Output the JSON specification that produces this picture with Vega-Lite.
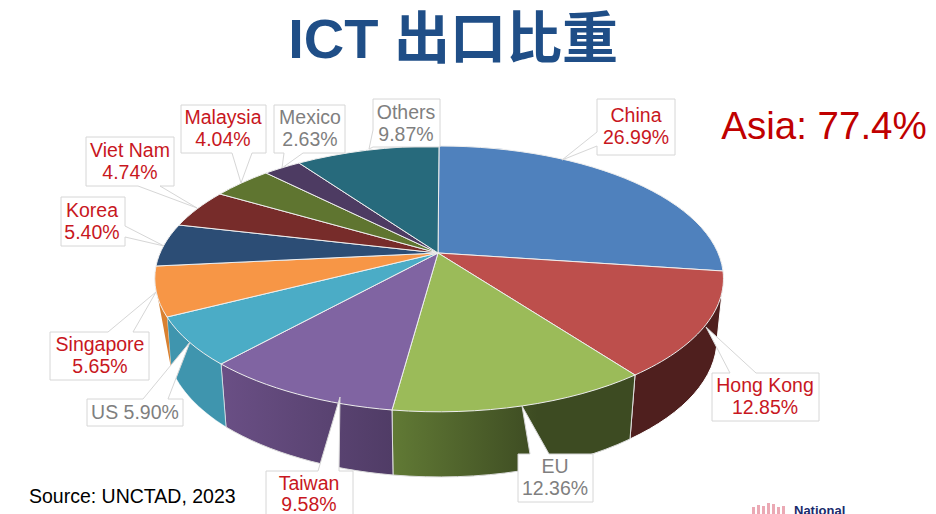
{
  "$schema": "https://vega.github.io/schema/vega-lite/v6.json",
  "width": 936,
  "height": 514,
  "padding": 0,
  "autosize": {"type": "none"},
  "background": "white",
  "config": {"view": {"stroke": null}},
  "title": {"text": "ICT 出口比重", "font": "Liberation Sans, Noto Sans CJK TC", "fontSize": 56, "fontWeight": "bold", "color": "#1f4e87", "anchor": "middle", "offset": -70, "dx": -15},
  "data": {"values": [
    {"name": "China", "share": 26.99, "label": "China\n26.99%"},
    {"name": "Hong Kong", "share": 12.85, "label": "Hong Kong\n12.85%"},
    {"name": "EU", "share": 12.36, "label": "EU\n12.36%"},
    {"name": "Taiwan", "share": 9.58, "label": "Taiwan\n9.58%"},
    {"name": "US", "share": 5.9, "label": "US 5.90%"},
    {"name": "Singapore", "share": 5.65, "label": "Singapore\n5.65%"},
    {"name": "Korea", "share": 5.4, "label": "Korea\n5.40%"},
    {"name": "Viet Nam", "share": 4.74, "label": "Viet Nam\n4.74%"},
    {"name": "Malaysia", "share": 4.04, "label": "Malaysia\n4.04%"},
    {"name": "Mexico", "share": 2.63, "label": "Mexico\n2.63%"},
    {"name": "Others", "share": 9.87, "label": "Others\n9.87%"}
  ]},
  "layer": [
    {"transform": [{"filter": "datum.name === 'Hong Kong'"}],
     "mark": {"type": "point", "filled": true, "opacity": 1, "size": 4, "shape": "M255.5 22L249 83A276 137 0 0 1 162 182L167 118Z", "fill": "#4f1f1e", "stroke": "#ffffff", "strokeWidth": 1}},
    {"transform": [{"filter": "datum.name === 'EU'"}],
     "mark": {"type": "point", "filled": true, "opacity": 1, "size": 4, "shape": "M167 118L162 182A276 137 0 0 1 -75 218L-76 153Z", "stroke": "#dddddd", "strokeWidth": 1,
       "fill": {"gradient": "linear", "x1": 0, "y1": 0, "x2": 1, "y2": 0, "stops": [{"offset": 0, "color": "#617a35"}, {"offset": 0.6, "color": "#3d4b22"}, {"offset": 1, "color": "#3d4b22"}]}}},
    {"transform": [{"filter": "datum.name === 'Taiwan'"}],
     "mark": {"type": "point", "filled": true, "opacity": 1, "size": 4, "shape": "M-76 153L-75 218A276 137 0 0 1 -242 170L-247 107Z", "stroke": "#dddddd", "strokeWidth": 1,
       "fill": {"gradient": "linear", "x1": 0, "y1": 0, "x2": 1, "y2": 0, "stops": [{"offset": 0, "color": "#6a4f85"}, {"offset": 1, "color": "#503c66"}]}}},
    {"transform": [{"filter": "datum.name === 'US'"}],
     "mark": {"type": "point", "filled": true, "opacity": 1, "size": 4, "shape": "M-247 107L-242 170A276 137 0 0 1 -297 111L-301 60Z", "fill": "#3f95ae", "stroke": "#ffffff", "strokeWidth": 0.5}},
    {"transform": [{"filter": "datum.name === 'Singapore'"}],
     "mark": {"type": "point", "filled": true, "opacity": 1, "size": 4, "shape": "M-301 60L-297 111L-311 36Z", "fill": "#d98030"}},
    {"mark": {"type": "point", "filled": true, "opacity": 1, "size": 4, "stroke": "#eeeeee", "strokeWidth": 1},
     "encoding": {
       "shape": {"field": "name", "type": "nominal", "legend": null, "scale": {
         "domain": ["China", "Hong Kong", "EU", "Taiwan", "US", "Singapore", "Korea", "Viet Nam", "Malaysia", "Mexico", "Others"],
         "range": [
           "M-30 -4L-29 -111A284.5 133 0 0 1 255 14Z",
           "M-30 -4L255 14A284.5 133 0 0 1 167 118Z",
           "M-30 -4L167 118A284.5 133 0 0 1 -76 153Z",
           "M-30 -4L-76 153A284.5 133 0 0 1 -247 107Z",
           "M-30 -4L-247 107A284.5 133 0 0 1 -301 60Z",
           "M-30 -4L-301 60A284.5 133 0 0 1 -312 9Z",
           "M-30 -4L-312 9A284.5 133 0 0 1 -289 -32Z",
           "M-30 -4L-289 -32A284.5 133 0 0 1 -248 -63Z",
           "M-30 -4L-248 -63A284.5 133 0 0 1 -202 -84Z",
           "M-30 -4L-202 -84A284.5 133 0 0 1 -169 -94Z",
           "M-30 -4L-169 -94A284.5 133 0 0 1 -29 -111Z"
         ]}},
       "color": {"field": "name", "type": "nominal", "legend": null, "scale": {
         "domain": ["China", "Hong Kong", "EU", "Taiwan", "US", "Singapore", "Korea", "Viet Nam", "Malaysia", "Mexico", "Others"],
         "range": ["#4f81bd", "#bd4f4c", "#9bbb59", "#8064a2", "#4bacc6", "#f79646", "#2c4d75", "#772c2a", "#5f7530", "#4d3b62", "#276a7c"]}}
     }},
    {"mark": {"type": "point", "filled": true, "opacity": 1, "size": 4, "fill": "#ffffff", "stroke": "#d6d6d6", "strokeWidth": 1},
     "encoding": {
       "shape": {"field": "name", "type": "nominal", "legend": null, "scale": {
         "domain": ["China", "Hong Kong", "EU", "Taiwan", "US", "Singapore", "Korea", "Viet Nam", "Malaysia", "Mexico", "Others"],
         "range": [
           "M129 -158L207 -158L207 -102L129 -102L129 -111L94 -97L129 -125Z",
           "M244 116L262 116L238 70L288 116L351 116L351 164L244 164Z",
           "M50 197L62 197L54 149L81 197L125 197L125 245L50 245Z",
           "M-202 214L-150 214L-128 140L-129 214L-115 214L-115 262L-202 262Z",
           "M-381 142L-325 142L-278 85L-300 142L-285 142L-285 169L-381 169Z",
           "M-418 75L-360 75L-312 35L-335 75L-319 75L-319 123L-418 123Z",
           "M-407 -60L-343 -60L-343 -31L-304 -11L-343 -20L-343 -11L-407 -11Z",
           "M-382 -120L-294 -120L-294 -71L-308 -71L-271 -49L-330 -71L-382 -71Z",
           "M-287 -152L-202 -152L-202 -104L-216 -104L-227 -74L-236 -104L-287 -104Z",
           "M-194 -152L-123 -152L-123 -104L-165 -104L-186 -89L-184 -104L-194 -104Z",
           "M-95 -158L-28 -158L-28 -110L-95 -110L-99 -108L-95 -127Z"
         ]}}
     }},
    {"transform": [{"filter": "datum.name === 'China'"}],
     "mark": {"type": "text", "font": "Liberation Sans", "fontSize": 19.5, "lineHeight": 22, "lineBreak": "\n", "align": "center", "baseline": "middle", "color": "#c8171e", "dx": 168, "dy": -141},
     "encoding": {"text": {"field": "label"}}},
    {"transform": [{"filter": "datum.name === 'Hong Kong'"}],
     "mark": {"type": "text", "font": "Liberation Sans", "fontSize": 19.5, "lineHeight": 22, "lineBreak": "\n", "align": "center", "baseline": "middle", "color": "#c8171e", "dx": 297, "dy": 129},
     "encoding": {"text": {"field": "label"}}},
    {"transform": [{"filter": "datum.name === 'EU'"}],
     "mark": {"type": "text", "font": "Liberation Sans", "fontSize": 19.5, "lineHeight": 22, "lineBreak": "\n", "align": "center", "baseline": "middle", "color": "#7f7f7f", "dx": 87, "dy": 210},
     "encoding": {"text": {"field": "label"}}},
    {"transform": [{"filter": "datum.name === 'Taiwan'"}],
     "mark": {"type": "text", "font": "Liberation Sans", "fontSize": 19.5, "lineHeight": 21, "lineBreak": "\n", "align": "center", "baseline": "middle", "color": "#c8171e", "dx": -159, "dy": 227},
     "encoding": {"text": {"field": "label"}}},
    {"transform": [{"filter": "datum.name === 'US'"}],
     "mark": {"type": "text", "font": "Liberation Sans", "fontSize": 19.5, "lineHeight": 22, "lineBreak": "\n", "align": "center", "baseline": "middle", "color": "#7f7f7f", "dx": -333, "dy": 156},
     "encoding": {"text": {"field": "label"}}},
    {"transform": [{"filter": "datum.name === 'Singapore'"}],
     "mark": {"type": "text", "font": "Liberation Sans", "fontSize": 19.5, "lineHeight": 22, "lineBreak": "\n", "align": "center", "baseline": "middle", "color": "#c8171e", "dx": -368, "dy": 88},
     "encoding": {"text": {"field": "label"}}},
    {"transform": [{"filter": "datum.name === 'Korea'"}],
     "mark": {"type": "text", "font": "Liberation Sans", "fontSize": 19.5, "lineHeight": 22, "lineBreak": "\n", "align": "center", "baseline": "middle", "color": "#c8171e", "dx": -376, "dy": -46},
     "encoding": {"text": {"field": "label"}}},
    {"transform": [{"filter": "datum.name === 'Viet Nam'"}],
     "mark": {"type": "text", "font": "Liberation Sans", "fontSize": 19.5, "lineHeight": 22, "lineBreak": "\n", "align": "center", "baseline": "middle", "color": "#c8171e", "dx": -338, "dy": -106},
     "encoding": {"text": {"field": "label"}}},
    {"transform": [{"filter": "datum.name === 'Malaysia'"}],
     "mark": {"type": "text", "font": "Liberation Sans", "fontSize": 19.5, "lineHeight": 22, "lineBreak": "\n", "align": "center", "baseline": "middle", "color": "#c8171e", "dx": -245, "dy": -139},
     "encoding": {"text": {"field": "label"}}},
    {"transform": [{"filter": "datum.name === 'Mexico'"}],
     "mark": {"type": "text", "font": "Liberation Sans", "fontSize": 19.5, "lineHeight": 22, "lineBreak": "\n", "align": "center", "baseline": "middle", "color": "#7f7f7f", "dx": -158, "dy": -139},
     "encoding": {"text": {"field": "label"}}},
    {"transform": [{"filter": "datum.name === 'Others'"}],
     "mark": {"type": "text", "font": "Liberation Sans", "fontSize": 19.5, "lineHeight": 22, "lineBreak": "\n", "align": "center", "baseline": "middle", "color": "#7f7f7f", "dx": -62, "dy": -144},
     "encoding": {"text": {"field": "label"}}},
    {"data": {"values": [{"note": "Asia: 77.4%"}]},
     "mark": {"type": "text", "font": "Liberation Sans", "fontSize": 38.5, "align": "center", "baseline": "middle", "color": "#c00000", "dx": 356, "dy": -130},
     "encoding": {"text": {"field": "note"}}},
    {"data": {"values": [{"note": "Source: UNCTAD, 2023"}]},
     "mark": {"type": "text", "font": "Liberation Sans", "fontSize": 19.5, "align": "left", "baseline": "middle", "color": "#000000", "dx": -439, "dy": 240},
     "encoding": {"text": {"field": "note"}}},
    {"data": {"values": [{"note": "National"}]},
     "mark": {"type": "text", "font": "Liberation Sans", "fontSize": 13, "fontWeight": "bold", "align": "left", "baseline": "middle", "color": "#1a2a6c", "dx": 326, "dy": 254},
     "encoding": {"text": {"field": "note"}}},
    {"data": {"values": [{"note": "logo"}]},
     "mark": {"type": "point", "filled": true, "opacity": 1, "size": 4, "fill": "#eba9b4", "shape": "M284 257V250H287V257ZM289 257V248H292V257ZM294 257V249H297V257ZM299 257V246H302V257ZM304 257V247H307V257ZM309 257V250H312V257ZM314 257V249H317V257Z"}}
  ],
  "resolve": {"scale": {"shape": "independent", "color": "independent"}}
}
